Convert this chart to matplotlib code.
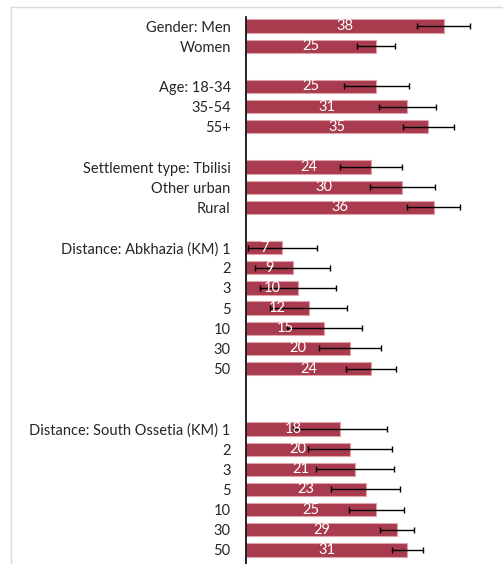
import numpy as np
import matplotlib.pyplot as plt
from matplotlib.lines import Line2D

plt.rcParams['font.family'] = ['Lato', 'DejaVu Sans']

labels = ['Gender: Men', 'Women', '',
          'Age: 18-34', '35-54', '55+', '',
          'Settlement type: Tbilisi', 'Other urban', 'Rural', '',
          'Distance: Abkhazia (KM) 1', '2', '3', '5', '10', '30', '50', '', '',
          'Distance: South Ossetia (KM) 1', '2', '3', '5', '10', '30', '50']
values = [38, 25, None,
          25, 31, 35, None,
          24, 30, 36, None,
          7, 9, 10, 12, 15, 20, 24, None, None,
          18, 20, 21, 23, 25, 29, 31]
errors = [5.1, 3.6, None,
          6.2, 5.4, 4.9, None,
          6.0, 6.2, 5.0, None,
          6.7, 7.2, 7.3, 7.3, 7.2, 5.9, 4.8, None, None,
          9.0, 8.1, 7.5, 6.6, 5.3, 3.3, 2.9]

bar_color = '#a83b4e'

fig = plt.figure(figsize=(5.03, 5.64), dpi=100)
ax = fig.add_axes([246 / 503, 0, 250 / 503, 1 - 17 / 564])

pos = [i for i, v in enumerate(values) if v is not None]
vals = [values[i] for i in pos]
errs = [errors[i] for i in pos]

ax.barh(pos, vals, height=0.66, color=bar_color, edgecolor='#e3a3ad', linewidth=0.8)
ax.errorbar(vals, pos, xerr=errs, fmt='none', ecolor='black', elinewidth=1,
            capsize=2.5, capthick=1)
for p, v in zip(pos, vals):
    ax.text(v / 2, p, str(v), ha='center', va='center', color='white', fontsize=10.5)

ax.set_yticks(range(len(labels)))
ax.set_yticklabels(labels, fontsize=10.5, color='#262626')
ax.tick_params(axis='y', length=0, pad=11)
ax.set_xticks([])
ax.set_xlim(0, 48)
ax.set_ylim((564 - 26) / 20.15, -9 / 20.15)
for s in ['top', 'right', 'bottom']:
    ax.spines[s].set_visible(False)
ax.spines['left'].set_linewidth(1.2)
ax.spines['left'].set_color('black')

# outer chart frame
fig.add_artist(Line2D([11 / 503, 11 / 503], [0, 1 - 7 / 564], color='#d9d9d9', lw=1))
fig.add_artist(Line2D([11 / 503, 1], [1 - 7 / 564, 1 - 7 / 564], color='#d9d9d9', lw=1))

fig.savefig('out.png', dpi=100)
